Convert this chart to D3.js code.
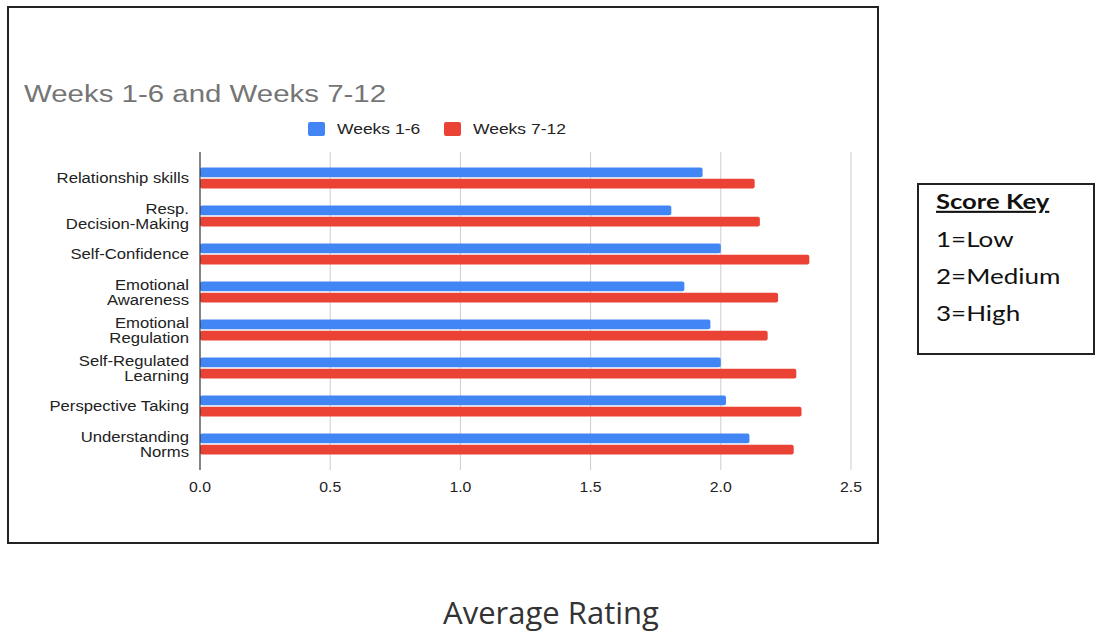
<!DOCTYPE html>
<html>
<head>
<meta charset="utf-8">
<script src="https://cdn.jsdelivr.net/npm/d3@7"></script>
<style>
  body { margin: 0; background: #fff; }
  svg { display: block; }
</style>
</head>
<body>
<script>
(function(){

// data
var categories = ["Relationship skills", "Resp.|Decision-Making", "Self-Confidence",
    "Emotional|Awareness", "Emotional|Regulation", "Self-Regulated|Learning",
    "Perspective Taking", "Understanding|Norms"];
var seriesNames = ["Weeks 1-6", "Weeks 7-12"];
var weeks1to6 = [1.93, 1.81, 2.0, 1.86, 1.96, 2.0, 2.02, 2.11];
var weeks7to12 = [2.13, 2.15, 2.34, 2.22, 2.18, 2.29, 2.31, 2.28];
var xTicks = [0, 0.5, 1.0, 1.5, 2.0, 2.5];
var keyLines = ["1=Low", "2=Medium", "3=High"];

var colors = ["#4285f4", "#ea4335"];
var chartFont = "Liberation Sans, Arial, sans-serif";

var width = 1098, height = 634;

var svg = d3.select("body").append("svg")
    .attr("width", width)
    .attr("height", height);

// the source screenshot is stretched sideways, so text gets a horizontal scale
function stretchText(parent, px, py, sx){
    return parent.append("text")
        .attr("transform", "translate(" + px + "," + py + ") scale(" + sx + ",1)");
}

// outer frame of chart image
svg.append("rect")
    .attr("x", 8).attr("y", 7)
    .attr("width", 870).attr("height", 536)
    .attr("fill", "none")
    .attr("stroke", "#222")
    .attr("stroke-width", 2);

// title
stretchText(svg, 24, 102, 1.28)
    .style("font-family", chartFont)
    .style("font-size", "23px")
    .attr("fill", "#757575")
    .text("Weeks 1-6 and Weeks 7-12");

// legend
var legendX = [308, 444];
seriesNames.forEach(function(name, i){
    svg.append("rect")
        .attr("x", legendX[i]).attr("y", 122)
        .attr("width", 17).attr("height", 14)
        .attr("rx", 2)
        .attr("fill", colors[i]);
    stretchText(svg, legendX[i] + 29, 134, 1.25)
        .style("font-family", chartFont)
        .style("font-size", "14px")
        .attr("fill", "#222")
        .text(name);
});

// scales
var x = d3.scaleLinear()
    .domain([0, 2.5])
    .range([200, 851]);

var y = d3.scaleBand()
    .domain(categories)
    .range([159, 463])
    .paddingInner(0.45)
    .paddingOuter(0.225);

var ySub = d3.scaleBand()
    .domain([0, 1])
    .range([0, y.bandwidth()])
    .paddingInner(0.15);

// gridlines
svg.selectAll(".grid")
    .data(xTicks.slice(1))
    .enter()
    .append("line")
    .attr("class", "grid")
    .attr("x1", function(d){ return x(d); })
    .attr("x2", function(d){ return x(d); })
    .attr("y1", 152).attr("y2", 470)
    .attr("stroke", "#cccccc")
    .attr("stroke-width", 1);

// bars
var groups = svg.selectAll(".cat")
    .data(categories)
    .enter()
    .append("g")
    .attr("class", "cat")
    .attr("transform", function(d){ return "translate(0," + y(d) + ")"; });

groups.each(function(d, i){
    var g = d3.select(this);
    [weeks1to6[i], weeks7to12[i]].forEach(function(v, s){
        g.append("rect")
            .attr("x", x(0))
            .attr("y", ySub(s))
            .attr("width", x(v) - x(0))
            .attr("height", ySub.bandwidth())
            .attr("rx", 2)
            .attr("fill", colors[s]);
    });
});

// baseline axis
svg.append("line")
    .attr("x1", x(0)).attr("x2", x(0))
    .attr("y1", 152).attr("y2", 470)
    .attr("stroke", "#333")
    .attr("stroke-width", 1.2);

// category labels
groups.each(function(d){
    var lines = d.split("|");
    var cy = y.bandwidth() / 2;
    var t = stretchText(d3.select(this), 189, cy + 5, 1.15)
        .attr("text-anchor", "end")
        .style("font-family", chartFont)
        .style("font-size", "14.5px")
        .attr("fill", "#222");
    lines.forEach(function(line, k){
        t.append("tspan")
            .attr("x", 0)
            .attr("y", (k - (lines.length - 1) / 2) * 15)
            .text(line);
    });
});

// x tick labels
xTicks.forEach(function(d){
    stretchText(svg, x(d), 492, 1.13)
        .attr("text-anchor", "middle")
        .style("font-family", chartFont)
        .style("font-size", "14px")
        .attr("fill", "#222")
        .text(d3.format(".1f")(d));
});

// score key box
var key = svg.append("g");
key.append("rect")
    .attr("x", 918).attr("y", 184)
    .attr("width", 176).attr("height", 170)
    .attr("fill", "none")
    .attr("stroke", "#222")
    .attr("stroke-width", 2);

stretchText(key, 936, 209, 1.22)
    .style("font-family", "Lato, sans-serif")
    .style("font-size", "21px")
    .style("font-weight", "bold")
    .style("text-decoration", "underline")
    .attr("fill", "#111")
    .text("Score Key");

keyLines.forEach(function(d, i){
    stretchText(key, 936, 247 + i * 37, 1.24)
        .style("font-family", "Lato, sans-serif")
        .style("font-size", "21px")
        .attr("fill", "#111")
        .text(d);
});

// axis title below
svg.append("text")
    .attr("x", 551).attr("y", 624)
    .attr("text-anchor", "middle")
    .style("font-family", "Open Sans, sans-serif")
    .style("font-size", "31px")
    .attr("fill", "#333")
    .text("Average Rating");

})();
</script>
</body>
</html>
